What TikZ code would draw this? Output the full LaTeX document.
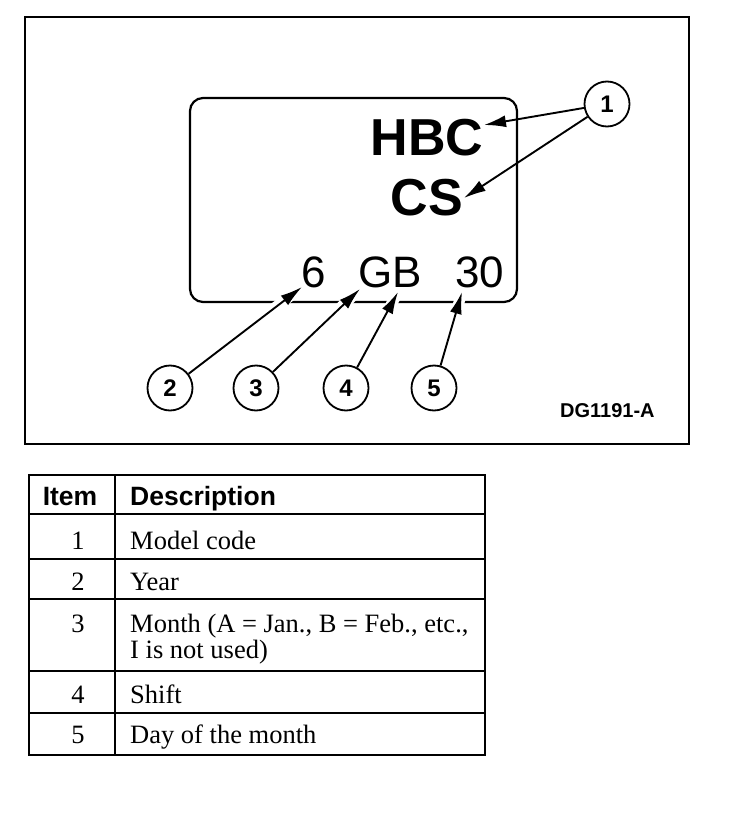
\documentclass[tikz,border=0pt]{standalone}
\usepackage{fontspec}
\setmainfont{Liberation Serif}
\setsansfont{Liberation Sans}
\usetikzlibrary{arrows.meta,positioning}

\begin{document}
\begin{tikzpicture}[
      x=1pt,
      y=-1pt,
      frame/.style={draw, line width=2pt},
      plate/.style={
        draw, rounded corners=13pt, line width=2.2pt,
        minimum width=327pt, minimum height=204pt, inner sep=0pt
      },
      callout/.style={
        draw, circle, line width=1.8pt, minimum size=45pt, inner sep=0pt,
        font=\sffamily\bfseries\fontsize{24}{24}\selectfont
      },
      model/.style={anchor=base, inner sep=0pt,
        font=\sffamily\bfseries\fontsize{52}{52}\selectfont},
      date/.style={anchor=base, inner sep=0pt,
        font=\sffamily\fontsize{44}{44}\selectfont},
      pointer/.style={-{Latex[length=22pt, width=12pt]}, line width=1.9pt},
      halo/.style={preaction={draw=white, line width=11pt, shorten <=8pt, -}},
      head/.style={inner sep=0pt,
        font=\sffamily\bfseries\fontsize{26.5}{27}\selectfont},
      cell/.style={anchor=base west, inner sep=0pt, align=left,
        font=\fontsize{26.5}{26}\selectfont},
      itemno/.style={anchor=base, inner sep=0pt,
        font=\fontsize{26.5}{26}\selectfont},
      rule/.style={line width=2.4pt}
    ]
    \useasboundingbox (0,0) rectangle (752,840);

    % label drawing
    \draw[frame] (25,17) rectangle (689,444);
    \node[plate] (plate) at (353.5,200) {};

    \node[callout] (c1) at (607,104) {1};
    \node[callout] (c2) at (170,388) {2};
    \node[callout] (c3) at (256,388) {3};
    \node[callout] (c4) at (346,388) {4};
    \node[callout] (c5) at (434,388) {5};

    \coordinate (tipHBC) at (484,125);
    \coordinate (tipCS) at (464,198);
    \coordinate (tipSix) at (302,287);
    \coordinate (tipG) at (360,289);
    \coordinate (tipB) at (398,292);
    \coordinate (tipDay) at (462,292);

    \draw[pointer] (c1) -- (tipHBC);
    \draw[pointer] (c1) -- (tipCS);
    \foreach \a/\b in {c2/tipSix,c3/tipG,c4/tipB,c5/tipDay}
      \draw[pointer, halo] (\a) -- (\b);

    \node[model] (hbc) at (427,155) {HBC};
    \node[model] (cs) at (427,215) {CS};
    \node[date] (six) at (313.5,287) {6};
    \node[date] (gb) at (390.5,287) {GB};
    \node[date] (thirty) at (480,287) {30};

    \node[anchor=base west, inner sep=0pt,
      font=\sffamily\bfseries\fontsize{20}{20}\selectfont] (fig) at (560,417) {DG1191-A};

    % table
    \draw[rule] (29,475) rectangle (485,755);
    \draw[rule] (115,475) -- (115,755);
    \foreach \y in {514,559,599,671,713}
      \draw[rule] (29,\y) -- (485,\y);

    \node[head, anchor=base] (itemhead) at (70,505) {Item};
    \node[head, anchor=base west] (deschead) at (130,505) {Description};

    % last baseline of each cell text
    \foreach \n/\y/\last/\txt in {1/549/549/Model code, 2/590/590/Year,
        3/632/658/{Month (A = Jan., B = Feb., etc.,\\I is not used)},
        4/703/703/Shift, 5/743/743/Day of the month} {
      \node[itemno] (no\n) at (78,\y) {\n};
      \node[cell] (desc\n) at (130,\last) {\txt};
    }
  \end{tikzpicture}
\end{document}
